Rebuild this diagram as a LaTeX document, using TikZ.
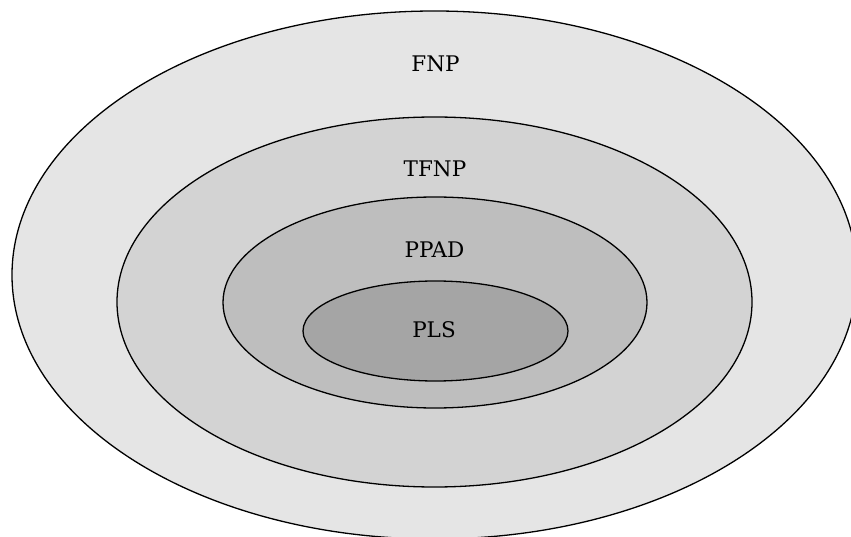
\documentclass[tikz,border=0pt]{standalone}
\usepackage{fontspec}
\setmainfont{DejaVu Serif}
\definecolor{cfnp}{HTML}{E5E5E5}
\definecolor{ctfnp}{HTML}{D3D3D3}
\definecolor{cppad}{HTML}{BEBEBE}
\definecolor{cpls}{HTML}{A5A5A5}
\tikzset{
  setshape/.style={draw=black, line width=1.3pt},
  setlabel/.style={inner sep=0pt, anchor=center, font=\fontsize{21.5}{24}\selectfont}
}
\begin{document}
\begin{tikzpicture}[x=1pt,y=-1pt]
\useasboundingbox (0,0) rectangle (851,537);
\clip (0,0) rectangle (851,537);
\path[setshape, fill=cfnp] (434.5,275) ellipse [x radius=422.5, y radius=264];
\path[setshape, fill=ctfnp] (434.5,302) ellipse [x radius=317.5, y radius=185];
\path[setshape, fill=cppad] (435,302.5) ellipse [x radius=212, y radius=105.5];
\path[setshape, fill=cpls] (435.5,331) ellipse [x radius=132.5, y radius=50];
\node[setlabel] (fnp) at (435.5,64) {FNP};
\node[setlabel] (tfnp) at (435,169) {TFNP};
\node[setlabel] (ppad) at (434.5,250) {PPAD};
\node[setlabel] (pls) at (434,329.5) {PLS};
\end{tikzpicture}
\end{document}
